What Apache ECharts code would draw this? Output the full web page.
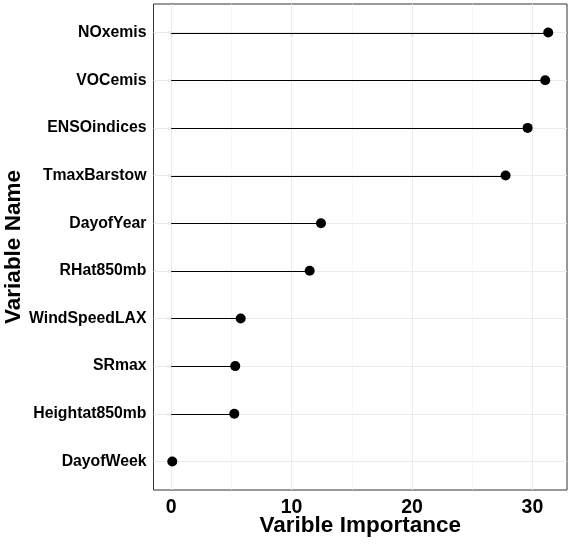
<!DOCTYPE html>
<html>
<head>
<meta charset="utf-8">
<script src="https://cdn.jsdelivr.net/npm/echarts@6/dist/echarts.min.js"></script>
<style>
html,body{margin:0;padding:0;background:#fff;}
#chart{width:573px;height:546px;}
</style>
</head>
<body>
<div id="chart"></div>
<script>
var categories = ["NOxemis","VOCemis","ENSOindices","TmaxBarstow","DayofYear","RHat850mb","WindSpeedLAX","SRmax","Heightat850mb","DayofWeek"];
var importance = [31.31, 31.06, 29.6, 27.77, 12.44, 11.5, 5.77, 5.32, 5.24, 0.09];
var xTicks = [0, 10, 20, 30];
var xMinorTicks = [5, 15, 25];
var yTicks = [0,1,2,3,4,5,6,7,8,9];

var points = importance.map(function(v, i){ return [v, i]; });

var gridLines = []
  .concat(xMinorTicks.map(function(v){ return {xAxis: v, lineStyle: {color: '#f2f2f2', width: 0.6}}; }))
  .concat(xTicks.map(function(v){ return {xAxis: v, lineStyle: {color: '#ebebeb', width: 1}}; }))
  .concat(yTicks.map(function(v){ return {yAxis: v, lineStyle: {color: '#ebebeb', width: 1}}; }));

var chart = echarts.init(document.getElementById('chart'), null, {renderer:'canvas'});
var font = '"Liberation Sans", Arial, Helvetica, sans-serif';
chart.setOption({
  animation: false,
  backgroundColor: '#ffffff',
  grid: {left: 153.5, right: 6, top: 4, bottom: 56, show: true, borderColor: '#333333', borderWidth: 1, backgroundColor: 'transparent', containLabel: false, outerBoundsMode: 'none'},
  xAxis: {
    type: 'value', min: -1.47, max: 32.87,
    name: 'Varible Importance', nameLocation: 'middle', nameGap: 24, nameMoveOverlap: false,
    nameTextStyle: {fontFamily: font, fontWeight: 'bold', fontSize: 22.5, color: '#000'},
    axisLine: {show: true, lineStyle: {color: '#333333', width: 1}},
    axisTick: {show: true, length: 4, customValues: xTicks, lineStyle: {color: '#333333', width: 1.2}},
    axisLabel: {customValues: xTicks, margin: 8, fontFamily: font, fontWeight: 'bold', fontSize: 19.5, color: '#000'},
    splitLine: {show: false},
    minorSplitLine: {show: false}
  },
  yAxis: {
    type: 'value', inverse: true, min: -0.6, max: 9.6,
    name: 'Variable Name', nameLocation: 'middle', nameGap: 128, nameRotate: 90, nameMoveOverlap: false,
    nameTextStyle: {fontFamily: font, fontWeight: 'bold', fontSize: 22.5, color: '#000'},
    axisLine: {show: true, lineStyle: {color: '#333333', width: 1}},
    axisTick: {show: true, length: 4, customValues: yTicks, lineStyle: {color: '#333333', width: 1.2}},
    axisLabel: {customValues: yTicks, margin: 7, fontFamily: font, fontWeight: 'bold', fontSize: 15.8, color: '#000',
      formatter: function(v){ return categories[Math.round(v)]; }},
    splitLine: {show: false}
  },
  series: [
    {
      type: 'custom',
      z: 3,
      silent: true,
      data: points,
      renderItem: function(params, api){
        var p0 = api.coord([0, api.value(1)]);
        var p1 = api.coord([api.value(0), api.value(1)]);
        var y = Math.round(p0[1]) + 0.5;
        return {type: 'line', shape: {x1: p0[0], y1: y, x2: p1[0], y2: y}, style: {stroke: '#000000', lineWidth: 1.1}};
      },
      markLine: {
        silent: true, symbol: 'none', z: 1, label: {show: false},
        lineStyle: {type: 'solid'},
        data: gridLines
      }
    },
    {
      type: 'scatter',
      z: 4,
      silent: true,
      symbol: 'circle',
      symbolSize: 10,
      itemStyle: {color: '#000000', opacity: 1},
      data: points
    }
  ]
});
</script>
</body>
</html>
